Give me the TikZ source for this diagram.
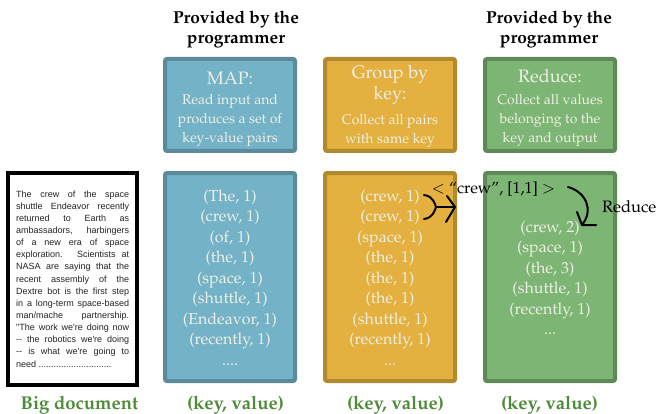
\documentclass[tikz,border=0pt]{standalone}
\usepackage{fontspec}
\newfontfamily\docfont{Liberation Sans}
\usepackage[T1]{fontenc}
\usepackage{mathpazo}
\definecolor{bluefill}{HTML}{74B2C8}
\definecolor{blueedge}{HTML}{5B8A9B}
\definecolor{yelfill}{HTML}{E4B03F}
\definecolor{yeledge}{HTML}{B08A2F}
\definecolor{grnfill}{HTML}{7DB574}
\definecolor{grnedge}{HTML}{5E8A57}
\definecolor{boxtext}{HTML}{EEF0E4}
\definecolor{lblgreen}{HTML}{4E8B38}
\definecolor{doctext}{HTML}{222222}
\tikzset{
  pbox/.style={draw, line width=4pt, rounded corners=2pt, inner sep=0pt},
  topbox/.style={pbox, minimum width=130pt, minimum height=92pt},
  lowbox/.style={pbox, minimum width=130pt, minimum height=208pt},
  intext/.style={anchor=base, inner sep=0pt, text=boxtext},
  hdr/.style={anchor=base, inner sep=0pt, text=black},
  lbl/.style={anchor=base, inner sep=0pt, text=lblgreen, font=\fontsize{18.5}{20}\selectfont\bfseries},
  hand/.style={draw=black, line width=2pt, line cap=round, line join=round}
}
\newcommand{\jl}[1]{\makebox[113pt][s]{#1}}
\begin{document}
\begin{tikzpicture}[x=1pt,y=-1pt]
\useasboundingbox (0,0) rectangle (660,414);

% headers
\node[hdr] (h1) at (236,24) {\parbox[t]{160pt}{\centering\fontsize{17.3}{20}\selectfont\bfseries Provided by the\\programmer}};
\node[hdr] (h2) at (549,24) {\parbox[t]{160pt}{\centering\fontsize{17.3}{20}\selectfont\bfseries Provided by the\\programmer}};

% top boxes
\node[topbox, fill=bluefill, draw=blueedge] (maptop) at (230,105) {};
\node[topbox, fill=yelfill, draw=yeledge] (grptop) at (390,105) {};
\node[topbox, fill=grnfill, draw=grnedge] (redtop) at (550,105) {};

\node[intext] (mapt) at (230,85) {\fontsize{18}{20}\selectfont MAP:};
\node[intext] (maps) at (230,105) {\parbox[t]{130pt}{\centering\fontsize{14}{19}\selectfont Read input and\\produces a set of\\key-value pairs}};

\node[intext] (grpt) at (390,79) {\parbox[t]{130pt}{\centering\fontsize{18}{20.5}\selectfont Group by\\key:}};
\node[intext] (grps) at (390,125) {\parbox[t]{130pt}{\centering\fontsize{14}{18.5}\selectfont Collect all pairs\\with same key}};

\node[intext] (redt) at (550,83) {\fontsize{18}{20}\selectfont Reduce:};
\node[intext] (reds) at (550,105) {\parbox[t]{130pt}{\centering\fontsize{14}{19}\selectfont Collect all values\\belonging to the\\key and output}};

% lower boxes
\node[lowbox, fill=bluefill, draw=blueedge] (maplow) at (230,277) {};
\node[lowbox, fill=yelfill, draw=yeledge] (grplow) at (390,277) {};
\node[lowbox, fill=grnfill, draw=grnedge] (redlow) at (550,277) {};

\node[intext] (mapl) at (230,201) {\parbox[t]{130pt}{\centering\fontsize{16}{20.5}\selectfont
(The, 1)\\(crew, 1)\\(of, 1)\\(the, 1)\\(space, 1)\\(shuttle, 1)\\(Endeavor, 1)\\(recently, 1)\\....}};
\node[intext] (grpl) at (390,201) {\parbox[t]{130pt}{\centering\fontsize{16}{20.5}\selectfont
(crew, 1)\\(crew, 1)\\(space, 1)\\(the, 1)\\(the, 1)\\(the, 1)\\(shuttle, 1)\\(recently, 1)\\...}};
\node[intext] (redl) at (550,232) {\parbox[t]{130pt}{\centering\fontsize{16}{20.5}\selectfont
(crew, 2)\\(space, 1)\\(the, 3)\\(shuttle, 1)\\(recently, 1)\\...}};

% big document
\node[draw=black, line width=4pt, minimum width=129pt, minimum height=212pt, inner sep=0pt] (docbox) at (72.5,279) {};
\node[anchor=base west, inner sep=0pt, text=doctext] (doc) at (16,197) {\parbox[t]{113pt}{\docfont\fontsize{9}{12.15}\selectfont
\jl{The crew of the space}\\
\jl{shuttle Endeavor recently}\\
\jl{returned to Earth as}\\
\jl{ambassadors, harbingers}\\
\jl{of a new era of space}\\
\jl{exploration. Scientists at}\\
\jl{NASA are saying that the}\\
\jl{recent assembly of the}\\
\jl{Dextre bot is the first step}\\
\jl{in a long-term space-based}\\
\jl{man/mache partnership.}\\
\jl{"The work we're doing now}\\
\jl{-{}- the robotics we're doing}\\
\jl{-{}- is what we're going to}\\
need .............................}};

% bottom labels
\node[lbl] (l0) at (79.5,409) {Big document};
\node[lbl] (l1) at (235.5,409) {(key, value)};
\node[lbl] (l2) at (395.5,409) {(key, value)};
\node[lbl] (l3) at (549.5,409) {(key, value)};

% annotations
\node[anchor=base, inner sep=0pt] (pair) at (493.5,193) {\fontsize{16}{18}\selectfont $<$ ``crew'', [1,1] $>$};
\node[anchor=base west, inner sep=0pt] (redlbl) at (602,212) {\fontsize{16.5}{18}\selectfont Reduce};

% merge arrow
\coordinate (c1) at (424,195);
\coordinate (c2) at (424,219);
\coordinate (m) at (436,207);
\coordinate (tip) at (455,207);
\coordinate (a1) at (447,196);
\coordinate (a2) at (446,222);
\draw[hand] (c1) .. controls (433,196) and (435,204) .. (m);
\draw[hand] (c2) .. controls (433,218) and (435,210) .. (m);
\draw[hand] (m) -- (tip);
\draw[hand] (a1) -- (tip) -- (a2);

% reduce arrow
\coordinate (r0) at (568,187);
\coordinate (rt) at (582,225);
\coordinate (ra) at (596,225);
\coordinate (rb) at (577,212);
\draw[hand] (r0) .. controls (586,192) and (594,210) .. (rt);
\draw[hand] (rb) -- (rt) -- (ra);
\end{tikzpicture}
\end{document}
